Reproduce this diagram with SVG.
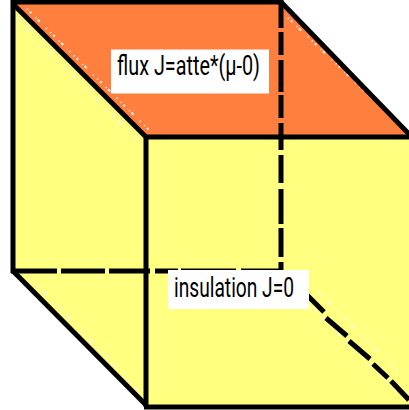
<svg xmlns="http://www.w3.org/2000/svg" width="409" height="410" viewBox="0 0 409 410">
<style>
.y{fill:#ffff80}
.o{fill:#ff7f3f}
.e{fill:none;stroke:#000;stroke-width:5;stroke-linecap:butt;stroke-linejoin:miter}
.s{fill:none;stroke:#fff;stroke-width:2;stroke-dasharray:1 3 2 6 1 2 3 9 1 5;opacity:.9}
.l{fill:#fff}
.t{font-family:"Roboto","Liberation Sans",sans-serif;font-size:27px;fill:#000}
</style>
<rect width="409" height="410" fill="#fff"/>
<g id="face-top"><polygon class="o" points="13,3 281,3 409,136 146,137"/></g>
<g id="face-left"><polygon class="y" points="13,4 146,137 146,405 13,271"/></g>
<g id="face-front"><polygon class="y" points="146,137 409,137 409,405 146,405"/></g>
<g id="speckle">
<path class="s" d="M27,9 L150,131"/>
<path class="s" d="M17,18 L140,142"/>
<path class="s" d="M288,18 L402,127"/>
<path class="s" d="M35,282 L140,392"/>
<path class="s" d="M318,292 L398,372"/>
<path class="s" d="M312,308 L398,392"/>
</g>
<g id="connectors">
<path class="e" d="M13,273 L13,2 L281,2 L410,135"/>
<path class="e" d="M13,4 L146,137"/>
<path class="e" d="M146,137 L409,137"/>
<path class="e" d="M146,137 L146,407"/>
<path class="e" d="M13,271 L146,405"/>
<path class="e" d="M144,407 L409,407"/>
<path class="e" d="M281,0V28M281,32V55M281,60V92M281,95V118M281,123V150M281,155V183M281,189V224M281,228V257M281,262V275"/>
<path class="e" d="M11,271H57M61,271H105M109,271H150M155,271H178M181,271H236M241,271H279"/>
<path class="e" d="M300,288L324,312M326,318L347,336M349,341L370,359M373,364L388,378M391,381L409,400"/>
</g>
<g id="label-flux">
<rect class="l" x="111" y="49.500" width="158" height="44"/>
<text class="t" x="117" y="75" textLength="143" lengthAdjust="spacingAndGlyphs">flux J=atte*(μ-0)</text>
</g>
<g id="label-insulation">
<rect class="l" x="168" y="270" width="141" height="39"/>
<text class="t" x="174" y="297" textLength="120" lengthAdjust="spacingAndGlyphs">insulation J=0</text>
</g>
</svg>
